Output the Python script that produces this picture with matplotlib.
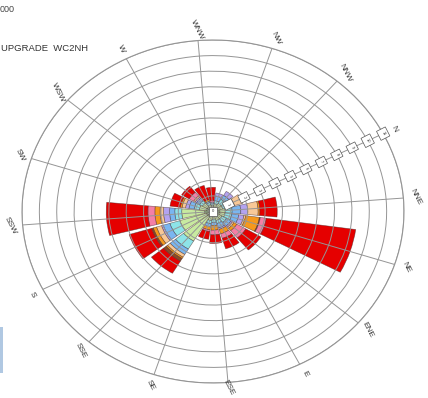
import numpy as np
import matplotlib.pyplot as plt
from matplotlib.patches import Rectangle

plt.rcParams["font.family"] = ["Liberation Sans", "DejaVu Sans"]

# compass sectors, clockwise from north
directions = ['N', 'NNE', 'NE', 'ENE', 'E', 'ESE', 'SE', 'SSE',
              'S', 'SSW', 'SW', 'WSW', 'W', 'WNW', 'NW', 'NNW']

# stacked frequency per speed class (ring units), one value per sector
band_1  = [0.3, 0.4, 0.4, 0.3, 0.3, 0.3, 0.3, 0.4, 0.4, 0.5, 0.4, 0.4, 0.3, 0.3, 0.3, 0.3]
band_2  = [0.3, 0.3, 0.3, 0.3, 0.3, 0.2, 0.3, 1.8, 1.6, 1.3, 0.4, 0.3, 0.15, 0.1, 0.2, 0.3]
band_3  = [0.3, 0.4, 0.4, 0.3, 0.2, 0.2, 0.2, 0.6, 0.6, 0.4, 0.3, 0.2, 0.15, 0.1, 0.2, 0.3]
band_4  = [0.3, 0.5, 0.4, 0.3, 0.3, 0.2, 0.2, 0.4, 0.4, 0.3, 0.3, 0.2, 0.1, 0.1, 0.3, 0.3]
band_5  = [0.1, 0.4, 0.3, 0.1, 0.1, 0.0, 0.0, 0.0, 0.1, 0.35, 0.2, 0.1, 0.0, 0.0, 0.2, 0.3]
band_6  = [0.5, 0.6, 0.1, 0.1, 0.0, 0.0, 0.0, 0.2, 0.3, 0.2, 0.2, 0.1, 0.0, 0.0, 0.0, 0.0]
band_7  = [0.0, 0.1, 0.8, 0.2, 0.3, 0.3, 0.2, 0.1, 0.2, 0.3, 0.1, 0.0, 0.1, 0.0, 0.0, 0.0]
band_8  = [0.0, 0.0, 0.05, 0.0, 0.0, 0.0, 0.0, 0.2, 0.1, 0.0, 0.0, 0.0, 0.0, 0.0, 0.0, 0.0]
band_9  = [0.0, 0.0, 0.35, 0.6, 0.3, 0.3, 0.1, 0.0, 0.0, 0.4, 0.0, 0.3, 0.0, 0.1, 0.0, 0.0]
band_10 = [0.0, 1.0, 5.2, 1.0, 0.7, 0.55, 0.5, 0.9, 1.35, 2.4, 0.6, 0.5, 0.95, 0.85, 0.0, 0.0]

bands = [band_1, band_2, band_3, band_4, band_5, band_6, band_7, band_8, band_9, band_10]
band_colors = ['#6f9e5a', '#c8eaa0', '#8de3e8', '#7ab6f0', '#b3a3f0',
               '#f8c896', '#f5981c', '#8b4a26', '#f47fa6', '#e50000']

ring_values = list(range(1, 12))
ring_labels = ['%d' % v for v in ring_values]

fig = plt.figure(figsize=(4.28, 3.98), dpi=100)
fig.patch.set_facecolor('white')
ax = fig.add_axes([22 / 428, 15 / 398, 382 / 428, 343 / 398], projection='polar')
ax.set_aspect('auto')
ax.set_theta_direction(-1)
ax.set_theta_offset(np.deg2rad(27))
ax.set_ylim(0, 11)

theta = np.deg2rad(np.arange(16) * 22.5)
width = np.deg2rad(20)

bottom = np.zeros(16)
for vals, col in zip(bands, band_colors):
    vals = np.array(vals)
    m = vals > 0
    ax.bar(theta[m], vals[m], width=width, bottom=bottom[m], color=col,
           edgecolor=(0.25, 0.15, 0.15, 0.6), linewidth=0.45, zorder=1)
    bottom += vals

# grid on top of the bars
ax.set_axisbelow(False)
ax.set_xticks(theta)
ax.set_xticklabels([])
ax.set_yticks(ring_values)
ax.set_yticklabels([])
ax.grid(True, color='#959595', linewidth=0.7)
ax.spines['polar'].set_color('#959595')
ax.spines['polar'].set_linewidth(0.8)
ax.tick_params(length=0)

# ring value boxes along the north spoke
for v, lab in zip(ring_values, ring_labels):
    ax.text(0, v, lab, fontsize=3, color='#333333', rotation=-63,
            ha='center', va='center', zorder=5,
            bbox=dict(boxstyle='square,pad=0.7', fc='white', ec='#555555', lw=0.5))
ax.text(0, 0, '0', fontsize=3, color='#333333', ha='center', va='center', zorder=5,
        bbox=dict(boxstyle='square,pad=0.7', fc='white', ec='#555555', lw=0.5))

# compass labels, pulled in a little where the figure edge is close
label_r = [11.7] * 16
label_r[5] = 11.35
for t, name, r in zip(theta, directions, label_r):
    ax.text(t, r, name, fontsize=6, color='#333333', rotation=-63,
            ha='center', va='center', clip_on=False)

fig.text(0.0, 0.975, '000', fontsize=6.5, color='#444444', ha='left', va='center')
fig.text(0.002, 0.878, 'UPGRADE  WC2NH', fontsize=6.8, color='#333333', ha='left', va='center')
fig.patches.append(Rectangle((0, 25 / 398), 3 / 428, 46 / 398, transform=fig.transFigure,
                             facecolor='#b0c8e2', edgecolor='none'))

fig.savefig('out.png', dpi=100)
